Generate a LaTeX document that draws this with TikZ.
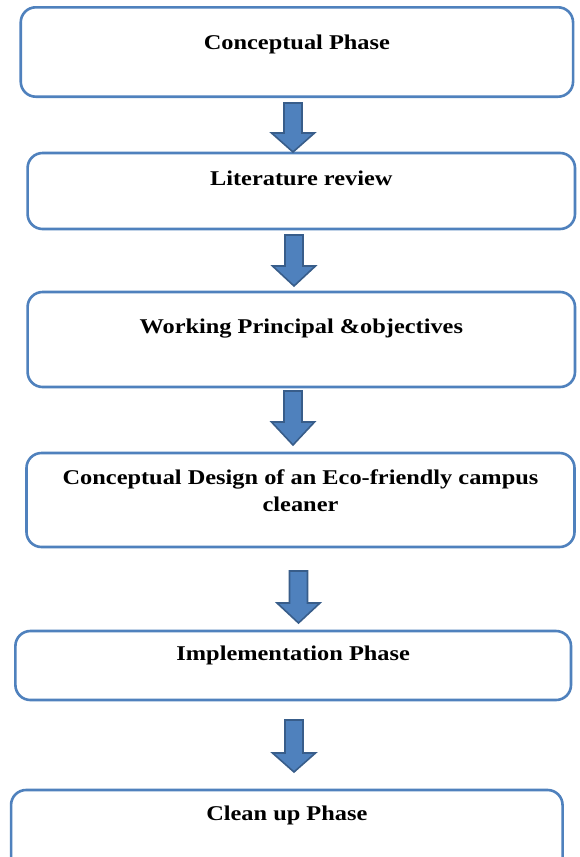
\documentclass[tikz,border=0pt]{standalone}
\usepackage{fontspec}
\setmainfont{Liberation Serif}
\usetikzlibrary{calc}
\definecolor{boxblue}{HTML}{4F81BD}
\definecolor{arrowedge}{HTML}{385D8A}
\tikzset{
  phasebox/.style={draw=boxblue, line width=2.6pt, rounded corners=15pt, fill=white, inner sep=0pt},
  lbl/.style={font=\fontsize{21}{27}\selectfont\bfseries, text=black, inner sep=0pt, align=center, xscale=1.16, transform shape},
  blockarrow/.style={fill=boxblue, draw=arrowedge, line width=1.6pt, line join=miter}
}
\newcommand\barrow[4]{%
  \draw[blockarrow] (#1-9,#2) -- (#1+9,#2) -- (#1+9,#3) -- (#1+21.5,#3) -- (#1,#4) -- (#1-21.5,#3) -- (#1-9,#3) -- cycle;}
\begin{document}
\begin{tikzpicture}[x=1pt,y=-1pt]
\useasboundingbox (0,0) rectangle (579,857);
\clip (0,0) rectangle (579,857);
\fill[white] (0,0) rectangle (579,857);
% boxes
\node[phasebox, minimum width=552.3pt, minimum height=89.4pt] (b1) at (296.9,52) {};
\node[phasebox, minimum width=547.4pt, minimum height=76pt] (b2) at (301.3,191) {};
\node[phasebox, minimum width=547.4pt, minimum height=95pt] (b3) at (301.3,339.5) {};
\node[phasebox, minimum width=548pt, minimum height=94pt] (b4) at (300.5,500) {};
\node[phasebox, minimum width=555.6pt, minimum height=69pt] (b5) at (293.2,665.5) {};
\node[phasebox, minimum width=551.5pt, minimum height=95pt] (b6) at (286.8,837.5) {};
% labels
\node[lbl, anchor=base] (t1) at ($(b1.north)+(0,43)$) {Conceptual Phase};
\node[lbl, anchor=base] (t2) at ($(b2.north)+(0,34)$) {Literature review};
\node[lbl, anchor=base] (t3) at ($(b3.north)+(0,43)$) {Working Principal \&objectives};
\node[lbl, anchor=base] (t4) at ($(b4.north)+(0,60)$) {Conceptual Design of an Eco-friendly campus\\cleaner};
\node[lbl, anchor=base] (t5) at ($(b5.north)+(0,31)$) {Implementation Phase};
\node[lbl, anchor=base] (t6) at ($(b6.north)+(0,32)$) {Clean up Phase};
% block arrows
\barrow{293}{103}{133}{152}
\barrow{294}{235}{266}{286}
\barrow{293}{391}{422}{445}
\barrow{298.5}{571}{603}{623}
\barrow{294}{720}{753}{772}
\end{tikzpicture}
\end{document}
